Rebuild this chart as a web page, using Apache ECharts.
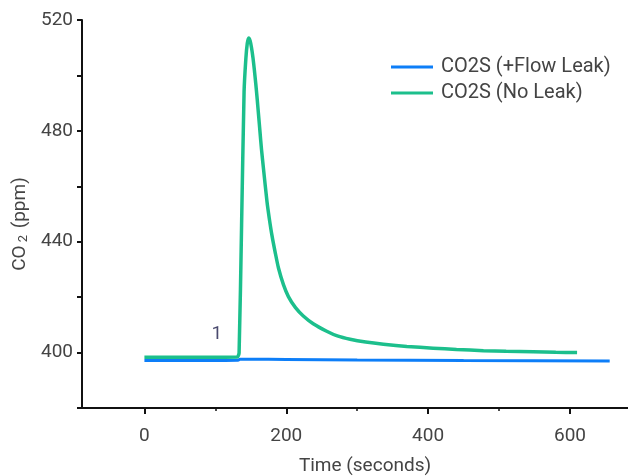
<!DOCTYPE html>
<html>
<head>
<meta charset="utf-8">
<script src="https://cdn.jsdelivr.net/npm/echarts@6/dist/echarts.min.js"></script>
<style>
  html, body { margin: 0; padding: 0; background: #fff; }
  #chart { width: 628px; height: 476px; }
</style>
</head>
<body>
<div id="chart"></div>
<script>
// CO2S (No Leak): time (s) and CO2 (ppm)
const noLeakTime = [0, 60, 131, 133.5, 137, 140.5, 143, 145, 147, 149, 151, 153, 155, 157, 159, 161, 163, 165, 168, 172.8, 176, 180, 184.5, 189, 196, 203, 213, 224, 238, 257, 272, 290, 312, 337, 370, 407, 440, 478, 510, 548, 580, 610]
const noLeakCo2 = [398.3, 398.3, 398.4, 400, 446, 494, 506, 511.5, 513.5, 512.5, 510, 506.5, 502, 497, 491.5, 485.5, 479.5, 473.5, 466, 454.5, 448.5, 442, 436, 430.5, 424.5, 420.2, 416.2, 413.2, 410.4, 407.7, 406, 404.8, 403.8, 403, 402.2, 401.6, 401.1, 400.7, 400.5, 400.3, 400.1, 400.0]

// CO2S (+Flow Leak)
const leakTime = [0, 60, 131, 135, 150, 200, 300, 450, 656]
const leakCo2 = [397.1, 397.1, 397.2, 397.6, 397.6, 397.5, 397.3, 397.1, 397.0]

const xLabelValues = [0, 200, 400, 600]
const xMinorValues = [100, 300, 500]
const annotationText = ['1']
const annotationTime = [102]
const annotationCo2 = [406.5]

const font = 'Roboto'
const textColor = '#444'
const fontSize = 19

function pairs(xs, ys) {
  return xs.map((x, i) => [x, ys[i]])
}

const chart = echarts.init(document.getElementById('chart'))

chart.setOption({
  backgroundColor: '#fff',
  animation: false,
  textStyle: { fontFamily: font },
  grid: { left: 82, width: 566, top: 20, bottom: 68, containLabel: false, outerBoundsMode: 'none' },
  legend: {
    orient: 'vertical',
    left: 391,
    top: 57,
    padding: 0,
    itemWidth: 42,
    itemHeight: 3,
    itemGap: 6,
    icon: 'rect',
    textStyle: { color: textColor, fontSize: 20, fontFamily: font, padding: [0, 0, 0, 3] },
    data: ['CO2S (+Flow Leak)', 'CO2S (No Leak)'],
  },
  xAxis: [
    {
      type: 'value',
      min: -88,
      max: 710,
      name: 'Time (seconds)',
      nameLocation: 'middle',
      nameGap: 49,
      nameTextStyle: { color: textColor, fontSize: fontSize, fontFamily: font },
      axisLine: { show: true, onZero: false, lineStyle: { color: '#111', width: 2 } },
      axisTick: { show: true, customValues: xLabelValues, length: 6, lineStyle: { color: '#111', width: 2 } },
      axisLabel: { customValues: xLabelValues, color: textColor, fontSize: fontSize, margin: 19 },
      splitLine: { show: false },
    },
    {
      type: 'value',
      min: -88,
      max: 710,
      position: 'bottom',
      axisLine: { show: false, onZero: false },
      axisTick: { show: true, customValues: xMinorValues, length: 3, lineStyle: { color: '#111', width: 1.5 } },
      axisLabel: { show: false },
      splitLine: { show: false },
    },
  ],
  yAxis: {
    type: 'value',
    min: 380,
    max: 520,
    interval: 20,
    name: 'CO{sub|2} (ppm)',
    nameLocation: 'middle',
    nameGap: 50,
    nameRotate: 90,
    nameTextStyle: {
      color: textColor,
      fontSize: fontSize,
      fontFamily: font,
      padding: [0, 20, 0, 0],
      rich: { sub: { fontSize: 13, color: textColor, fontFamily: font, padding: [7, 2, 0, 3] } },
    },
    axisLine: { show: true, onZero: false, lineStyle: { color: '#111', width: 2 } },
    axisTick: { show: true, length: 5, lineStyle: { color: '#111', width: 2 } },
    axisLabel: {
      color: textColor,
      fontSize: fontSize,
      margin: 9,
      formatter: (v) => (v % 40 === 0 ? String(v) : ''),
    },
    splitLine: { show: false },
  },
  series: [
    {
      name: 'CO2S (+Flow Leak)',
      type: 'line',
      data: pairs(leakTime, leakCo2),
      showSymbol: false,
      smooth: 0.2,
      lineStyle: { color: '#0d7ef8', width: 3 },
      itemStyle: { color: '#0d7ef8' },
      z: 2,
    },
    {
      name: 'CO2S (No Leak)',
      type: 'line',
      data: pairs(noLeakTime, noLeakCo2),
      showSymbol: false,
      smooth: 0.2,
      lineStyle: { color: '#1cbf8c', width: 3.5 },
      itemStyle: { color: '#1cbf8c' },
      z: 3,
    },
    {
      name: 'annotation',
      type: 'scatter',
      data: annotationTime.map((t, i) => ({ value: [t, annotationCo2[i]], name: annotationText[i] })),
      symbol: 'circle',
      symbolSize: 1,
      silent: true,
      itemStyle: { color: 'rgba(0,0,0,0)' },
      label: {
        show: true,
        position: 'inside',
        formatter: (p) => p.name,
        color: '#1d1d4a',
        fontSize: fontSize,
        fontFamily: font,
      },
      z: 4,
    },
  ],
})
</script>
</body>
</html>
